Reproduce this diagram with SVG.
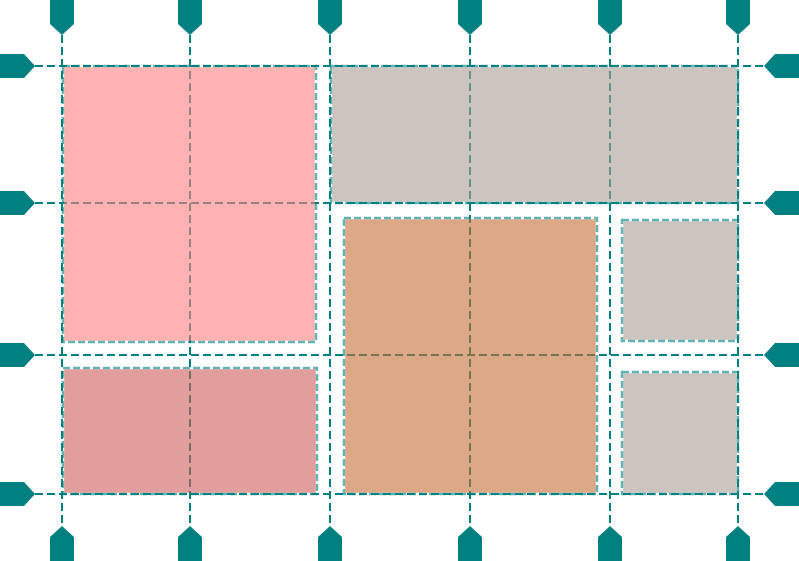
<svg xmlns="http://www.w3.org/2000/svg" width="799" height="561" viewBox="0 0 799 561">
<style>
.gl{stroke:#008080;stroke-width:2;stroke-dasharray:8 4;fill:none}
.mk{fill:#008080}
.item{opacity:0.6}
.bd{fill:none;stroke:#008080;stroke-width:2.5;stroke-dasharray:7 3}
.pink{fill:#ff7f7f}
.gray{fill:#aa9e96}
.orange{fill:#c57037}
.dpink{fill:#d05d5d}
</style>
<defs>
<polygon id="mt" points="-12,0 12,0 12,24 0,35 -12,24"/>
</defs>
<g id="connectors">
<line class="gl" x1="62" y1="35" x2="62" y2="526"/>
<line class="gl" x1="190" y1="35" x2="190" y2="526"/>
<line class="gl" x1="330" y1="35" x2="330" y2="526"/>
<line class="gl" x1="470" y1="35" x2="470" y2="526"/>
<line class="gl" x1="610" y1="35" x2="610" y2="526"/>
<line class="gl" x1="738" y1="35" x2="738" y2="526"/>
<line class="gl" x1="35" y1="66" x2="764" y2="66"/>
<line class="gl" x1="35" y1="203" x2="764" y2="203"/>
<line class="gl" x1="35" y1="355" x2="764" y2="355"/>
<line class="gl" x1="35" y1="494" x2="764" y2="494"/>
</g>
<g id="markers">
<use href="#mt" class="mk" transform="translate(62,0)"/>
<use href="#mt" class="mk" transform="translate(190,0)"/>
<use href="#mt" class="mk" transform="translate(330,0)"/>
<use href="#mt" class="mk" transform="translate(470,0)"/>
<use href="#mt" class="mk" transform="translate(610,0)"/>
<use href="#mt" class="mk" transform="translate(738,0)"/>
<use href="#mt" class="mk" transform="translate(62,561) rotate(180)"/>
<use href="#mt" class="mk" transform="translate(190,561) rotate(180)"/>
<use href="#mt" class="mk" transform="translate(330,561) rotate(180)"/>
<use href="#mt" class="mk" transform="translate(470,561) rotate(180)"/>
<use href="#mt" class="mk" transform="translate(610,561) rotate(180)"/>
<use href="#mt" class="mk" transform="translate(738,561) rotate(180)"/>
<use href="#mt" class="mk" transform="translate(0,66) rotate(-90)"/>
<use href="#mt" class="mk" transform="translate(0,203) rotate(-90)"/>
<use href="#mt" class="mk" transform="translate(0,355) rotate(-90)"/>
<use href="#mt" class="mk" transform="translate(0,494) rotate(-90)"/>
<use href="#mt" class="mk" transform="translate(799,66) rotate(90)"/>
<use href="#mt" class="mk" transform="translate(799,203) rotate(90)"/>
<use href="#mt" class="mk" transform="translate(799,355) rotate(90)"/>
<use href="#mt" class="mk" transform="translate(799,494) rotate(90)"/>
</g>
<g id="item-a" class="item"><rect class="pink" x="64.2" y="67.2" width="250.6" height="273.6"/><rect class="bd" x="63" y="66" width="253" height="276"/></g>
<g id="item-b" class="item"><rect class="gray" x="332.2" y="67.2" width="404.6" height="134.6"/><rect class="bd" x="331" y="66" width="407" height="137"/></g>
<g id="item-c" class="item"><rect class="orange" x="345.2" y="219.2" width="250.6" height="273.6"/><rect class="bd" x="344" y="218" width="253" height="276"/></g>
<g id="item-d" class="item"><rect class="gray" x="623.2" y="221.2" width="113.6" height="118.6"/><rect class="bd" x="622" y="220" width="116" height="121"/></g>
<g id="item-e" class="item"><rect class="gray" x="623.2" y="373.2" width="113.6" height="119.6"/><rect class="bd" x="622" y="372" width="116" height="122"/></g>
<g id="item-f" class="item"><rect class="dpink" x="64.2" y="369.2" width="251.6" height="123.6"/><rect class="bd" x="63" y="368" width="254" height="126"/></g>
</svg>
